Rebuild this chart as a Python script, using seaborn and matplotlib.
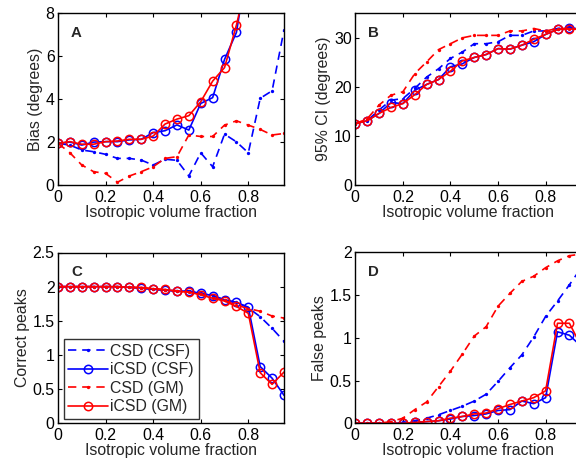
import numpy as np
import pandas as pd
import matplotlib
matplotlib.use("Agg")
import matplotlib.pyplot as plt
import seaborn as sns

# Isotropic volume fraction sampled in steps of 0.05
frac = [0.00, 0.05, 0.10, 0.15, 0.20, 0.25, 0.30, 0.35, 0.40, 0.45,
        0.50, 0.55, 0.60, 0.65, 0.70, 0.75, 0.80, 0.85, 0.90, 0.95]

# Panel A: bias (degrees)
bias_csd_csf = [1.94, 1.86, 1.63, 1.55, 1.43, 1.24, 1.24, 1.16, 0.93, 1.20,
                1.15, 0.42, 1.50, 0.85, 2.37, 2.01, 1.50, 4.04, 4.39, 7.22]
bias_icsd_csf = [1.94, 2.00, 1.86, 2.00, 2.02, 2.02, 2.10, 2.13, 2.44, 2.53,
                 2.80, 2.56, 3.80, 4.07, 5.85, 7.11, 10.5, 12.5, 14.0, 16.0]
bias_csd_gm = [1.94, 1.50, 0.93, 0.62, 0.54, 0.13, 0.42, 0.62, 0.85, 1.24,
               1.32, 2.33, 2.26, 2.26, 2.79, 2.99, 2.79, 2.59, 2.33, 2.40]
bias_icsd_gm = [1.94, 2.02, 1.90, 1.90, 2.02, 2.05, 2.13, 2.13, 2.28, 2.84,
                3.07, 3.23, 3.88, 4.84, 5.47, 7.45, 9.8, 12.0, 14.0, 16.0]

# Panel B: 95% confidence interval (degrees)
ci_csd_csf = [12.5, 13.1, 15.3, 17.3, 17.6, 19.7, 22.0, 23.7, 25.8, 27.1,
              28.8, 28.8, 29.2, 30.5, 30.5, 31.4, 31.4, 31.9, 32.2, 31.9]
ci_icsd_csf = [12.5, 13.1, 14.6, 16.8, 16.6, 19.3, 20.5, 21.5, 24.1, 24.7,
               26.0, 26.6, 27.8, 27.7, 28.5, 29.2, 30.7, 31.7, 32.0, 31.8]
ci_csd_gm = [12.5, 13.5, 16.3, 18.3, 19.0, 22.7, 25.1, 27.6, 28.8, 30.0,
             30.5, 30.5, 30.5, 31.4, 31.4, 31.9, 31.4, 31.9, 31.9, 31.8]
ci_icsd_gm = [12.5, 13.1, 14.6, 15.8, 16.6, 18.4, 20.5, 21.5, 23.2, 25.3,
              26.0, 26.6, 27.8, 27.7, 28.5, 29.7, 30.7, 31.7, 31.8, 31.7]

# Panel C: correct peaks
cp_csd_csf = [2.00, 2.00, 2.00, 2.00, 2.00, 2.00, 1.99, 1.98, 1.96, 1.95,
              1.94, 1.93, 1.90, 1.87, 1.81, 1.77, 1.69, 1.56, 1.39, 1.20]
cp_icsd_csf = [2.00, 2.00, 2.00, 2.00, 2.00, 2.00, 1.99, 1.98, 1.96, 1.95,
               1.93, 1.94, 1.90, 1.87, 1.80, 1.77, 1.70, 0.83, 0.66, 0.41]
cp_csd_gm = [2.00, 2.00, 2.00, 2.00, 2.00, 2.00, 1.99, 1.98, 1.97, 1.95,
             1.94, 1.92, 1.89, 1.84, 1.80, 1.73, 1.68, 1.64, 1.57, 1.54]
cp_icsd_gm = [2.00, 2.00, 2.00, 2.00, 2.00, 2.00, 1.99, 1.99, 1.97, 1.96,
              1.93, 1.92, 1.88, 1.83, 1.79, 1.71, 1.61, 0.74, 0.57, 0.75]

# Panel D: false peaks
fp_csd_csf = [0.00, 0.00, 0.00, 0.00, 0.01, 0.03, 0.06, 0.10, 0.15, 0.20,
              0.26, 0.34, 0.49, 0.65, 0.80, 1.01, 1.25, 1.43, 1.62, 1.82]
fp_icsd_csf = [0.00, 0.00, 0.00, 0.00, 0.00, 0.01, 0.02, 0.03, 0.05, 0.08,
               0.09, 0.11, 0.15, 0.16, 0.26, 0.23, 0.30, 1.07, 1.03, 0.90]
fp_csd_gm = [0.00, 0.00, 0.00, 0.02, 0.06, 0.16, 0.25, 0.43, 0.61, 0.81,
             1.02, 1.13, 1.37, 1.52, 1.66, 1.72, 1.82, 1.90, 1.96, 1.98]
fp_icsd_gm = [0.00, 0.00, 0.00, 0.00, 0.00, 0.01, 0.02, 0.03, 0.06, 0.08,
              0.11, 0.12, 0.17, 0.22, 0.26, 0.30, 0.38, 1.17, 1.17, 0.90]

series_labels = ["CSD (CSF)", "iCSD (CSF)", "CSD (GM)", "iCSD (GM)"]
series_colors = ["#0000ff", "#0000ff", "#ff0000", "#ff0000"]

panels = [
    ("A", "Bias (degrees)", [bias_csd_csf, bias_icsd_csf, bias_csd_gm, bias_icsd_gm],
     (0, 8), [0, 2, 4, 6, 8], ["0", "2", "4", "6", "8"]),
    ("B", "95% CI (degrees)", [ci_csd_csf, ci_icsd_csf, ci_csd_gm, ci_icsd_gm],
     (0, 35), [0, 10, 20, 30], ["0", "10", "20", "30"]),
    ("C", "Correct peaks", [cp_csd_csf, cp_icsd_csf, cp_csd_gm, cp_icsd_gm],
     (0, 2.5), [0, 0.5, 1, 1.5, 2, 2.5], ["0", "0.5", "1", "1.5", "2", "2.5"]),
    ("D", "False peaks", [fp_csd_csf, fp_icsd_csf, fp_csd_gm, fp_icsd_gm],
     (0, 2), [0, 0.5, 1, 1.5, 2], ["0", "0.5", "1", "1.5", "2"]),
]

sns.set_style("ticks")
plt.rcParams["font.family"] = ["Liberation Sans", "DejaVu Sans"]
FS = 11.4
plt.rcParams["font.size"] = FS

W, H = 576, 463
fig = plt.figure(figsize=(W / 100, H / 100), dpi=100)

# axes boxes in pixels: (left, top, width, height)
boxes = [(58, 13.3, 226, 171.7), (355.3, 13.3, 226, 171.7),
         (58, 252.5, 226, 170.8), (355.3, 252.3, 226, 171.0)]

xticks = [0, 0.2, 0.4, 0.6, 0.8]
xticklabels = ["0", "0.2", "0.4", "0.6", "0.8"]

for (letter, ylabel, ys, ylim, yticks, yticklabels), (l, t, w, h) in zip(panels, boxes):
    ax = fig.add_axes([l / W, (H - t - h) / H, w / W, h / H])
    for k, (vals, lab, col) in enumerate(zip(ys, series_labels, series_colors)):
        df = pd.DataFrame({"frac": frac, "val": vals})
        if k % 2 == 0:
            sns.lineplot(data=df, x="frac", y="val", ax=ax, color=col,
                         linestyle=(0, (5, 3.5)), linewidth=1.2,
                         marker="o", markersize=2.4, markeredgewidth=0,
                         markerfacecolor=col, label=lab, legend=False)
        else:
            sns.lineplot(data=df, x="frac", y="val", ax=ax, color=col,
                         linestyle="-", linewidth=1.2,
                         marker="o", markersize=6, markeredgewidth=1.1,
                         markerfacecolor="none", markeredgecolor=col,
                         label=lab, legend=False)
    ax.set_xlim(0, 0.95)
    ax.set_ylim(*ylim)
    ax.set_xticks(xticks)
    ax.set_xticklabels(xticklabels)
    ax.set_yticks(yticks)
    ax.set_yticklabels(yticklabels)
    ax.set_xlabel("Isotropic volume fraction", labelpad=0)
    ax.set_ylabel(ylabel, labelpad=2)
    ax.tick_params(axis="x", pad=3.5)
    ax.tick_params(axis="y", pad=2.5)
    ax.tick_params(direction="in", length=3, width=0.8, top=True, right=True,
                   labelsize=FS, colors="black")
    for sp in ax.spines.values():
        sp.set_visible(True)
        sp.set_color("black")
        sp.set_linewidth(1.0)
    ax.text(0.057, 0.925, letter, transform=ax.transAxes, ha="left", va="top",
            fontsize=FS - 0.6, fontweight="bold")
    if letter == "C":
        leg = ax.legend(loc="lower left", bbox_to_anchor=(0.025, 0.025),
                        borderaxespad=0, frameon=True, fancybox=False,
                        handlelength=2.5, handletextpad=0.15,
                        labelspacing=0.22, borderpad=0.3, fontsize=FS)
        leg.get_frame().set_edgecolor("black")
        leg.get_frame().set_linewidth(1.0)

fig.savefig("out.png", dpi=100)
